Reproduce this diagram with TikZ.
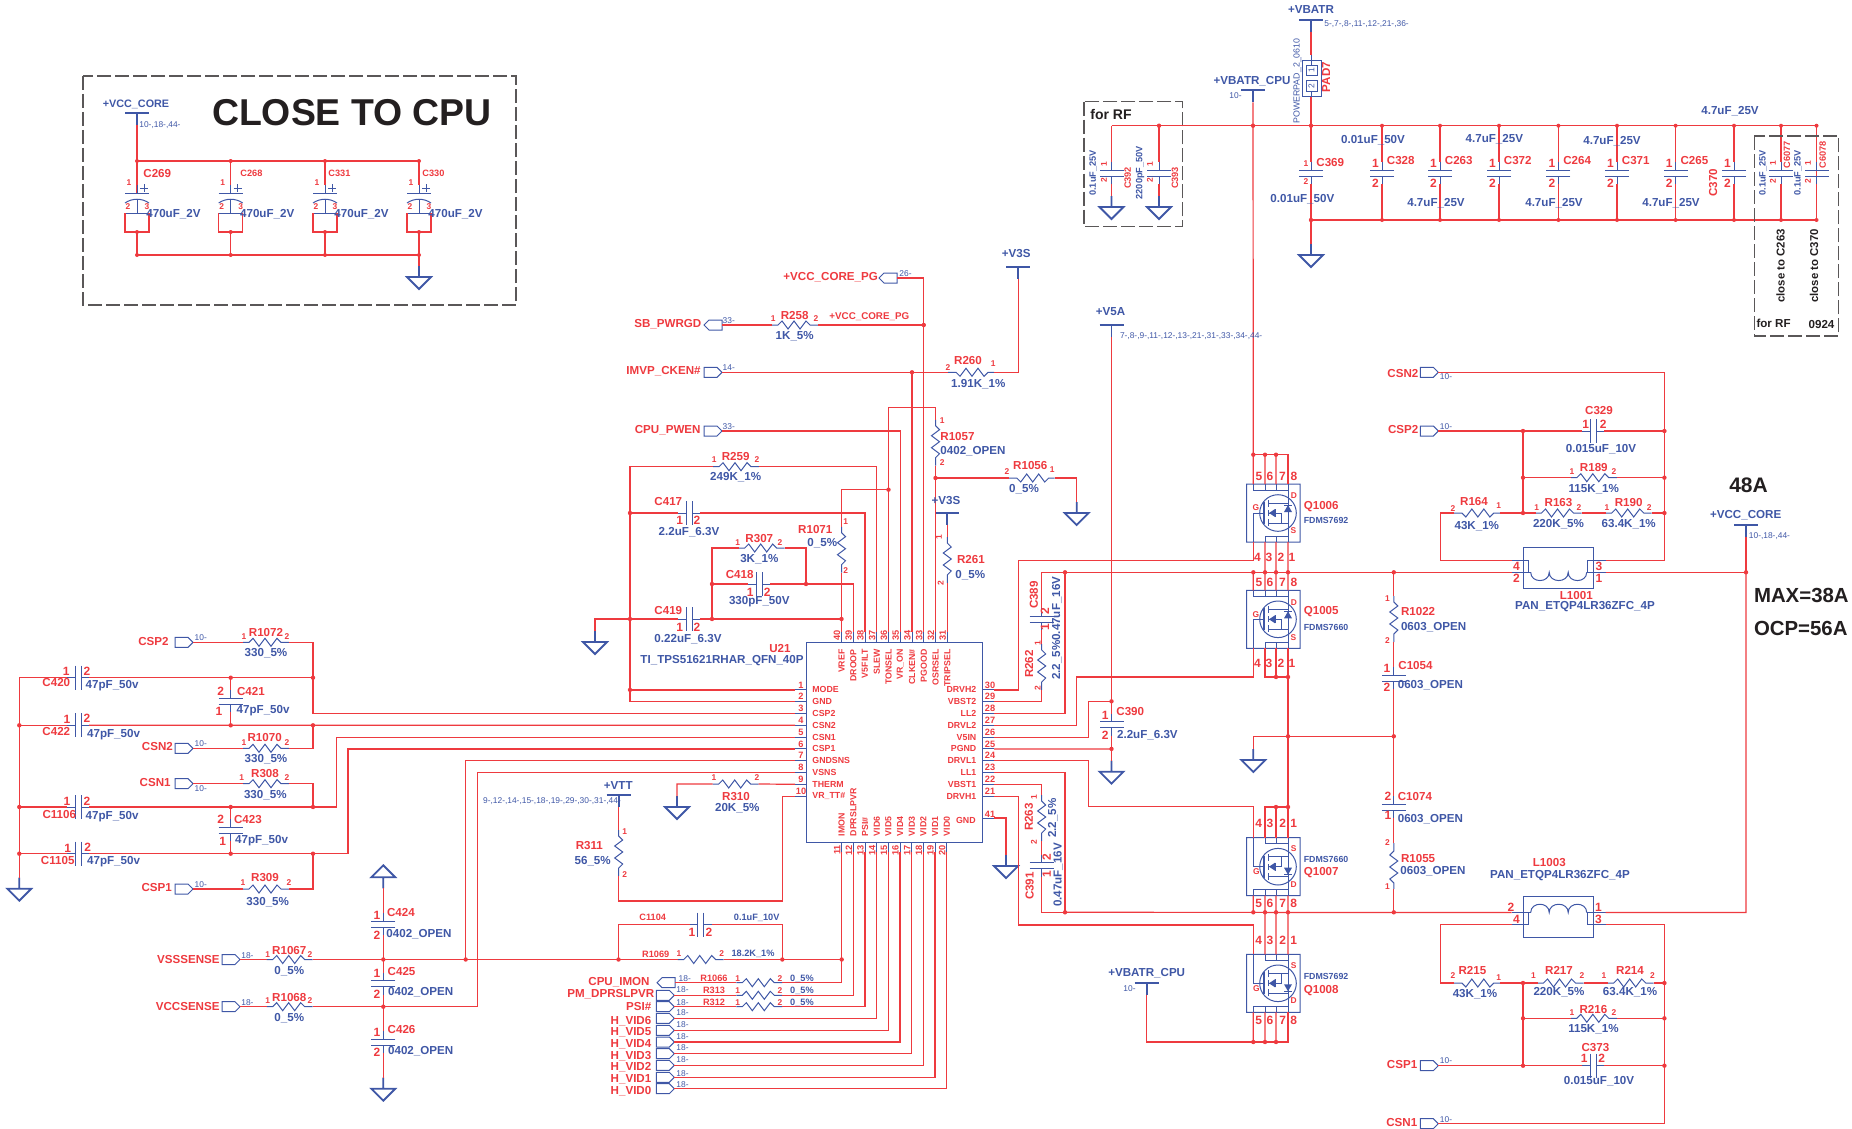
\documentclass[tikz,border=0pt]{standalone}
\usepackage{fontspec}
\setmainfont{Liberation Sans}
\definecolor{netred}{HTML}{EE3A3F}
\definecolor{partblue}{HTML}{3F57A6}
\definecolor{ink}{HTML}{231F20}
\tikzset{
  wire/.style={netred,line width=0.6pt},
  part/.style={partblue,line width=0.5pt},
  stem/.style={partblue,line width=0.9pt},
  frame/.style={ink!75,line width=0.6pt,dash pattern=on 7pt off 2pt},
  ref/.style={netred,inner sep=0,font=\fontsize{5.8}{6}\selectfont\bfseries},
  sref/.style={netred,inner sep=0,font=\fontsize{4.6}{5}\selectfont\bfseries},
  val/.style={partblue,inner sep=0,font=\fontsize{5.8}{6}\selectfont\bfseries},
  sval/.style={partblue,inner sep=0,font=\fontsize{4.6}{5}\selectfont\bfseries},
  pinb/.style={netred,inner sep=0,font=\fontsize{6}{6}\selectfont\bfseries},
  pins/.style={netred,inner sep=0,font=\fontsize{4.2}{5}\selectfont\bfseries},
  icn/.style={netred,inner sep=0,font=\fontsize{4.4}{5}\selectfont\bfseries},
  xref/.style={partblue,inner sep=0,font=\fontsize{4.2}{5}\selectfont},
  head/.style={ink,inner sep=0,font=\bfseries},
  al/.style={anchor=west},
  ar/.style={anchor=east},
  up/.style={rotate=90}
}
\newcount\txn
\newcommand{\tx}[3][]{\global\advance\txn by 1 \node[val,#1] (t\the\txn) at (#2) {#3};}
\newcommand{\res}[4]{\begin{scope}[shift={(#2,#3)},rotate=#4]
  \coordinate (#1-1) at (-23,0); \coordinate (#1-2) at (23,0);
  \draw[part] (-23,0)--(-17,0)--(-13,-4)--(-7,4)--(-1,-4)--(5,4)--(11,-4)--(15,0)--(23,0);
\end{scope}}
\newcommand{\cappart}[4]{\begin{scope}[shift={(#2,#3)},rotate=#4]
  \coordinate (#1-1) at (-11,0); \coordinate (#1-2) at (11,0);
  \draw[part] (-11,0)--(-3,0) (-3,-12)--(-3,12) (3,-12)--(3,12) (3,0)--(11,0);
\end{scope}}
\newcommand{\gnd}[4]{\begin{scope}[shift={(#2,#3)},rotate=#4]
  \coordinate (#1) at (0,-11);
  \draw[stem] (0,-11)--(0,0) (-12,0)--(12,0)--(0,12)--cycle;
\end{scope}}
\newcommand{\rail}[3]{\begin{scope}[shift={(#2,#3)}]
  \coordinate (#1) at (0,12);
  \draw[stem] (-12,0)--(12,0) (0,0)--(0,12);
\end{scope}}
\newcommand{\portout}[3]{\begin{scope}[shift={(#2,#3)}]
  \coordinate (#1) at (0,0);
  \draw[part] (0,0)--(-5,-5)--(-18,-5)--(-18,5)--(-5,5)--cycle;
\end{scope}}
\newcommand{\portin}[3]{\begin{scope}[shift={(#2,#3)}]
  \coordinate (#1) at (0,0);
  \draw[part] (-18,0)--(-13,-5)--(0,-5)--(0,5)--(-13,5)--cycle;
\end{scope}}
\newcommand{\fet}[4]{\begin{scope}[shift={(#2,#3)},yscale=#4]
  \foreach \n/\x in {5/-24.7,6/-13,7/-2,8/10} \coordinate (#1-\n) at (\x,-29);
  \foreach \n/\x in {4/-24.7,3/-13,2/-2,1/10} \coordinate (#1-\n) at (\x,29);
  \draw[part] (-31.3,-29) rectangle (22,29) (0,0) circle (18.3);
  \draw[part] (-24.7,-29)--(-24.7,-23)--(10,-23) (-13,-29)--(-13,-23) (-2,-29)--(-2,-23) (10,-29)--(10,29);
  \draw[part] (-13,29)--(-13,23)--(10,23) (-2,29)--(-2,23) (-24.7,29)--(-24.7,0)--(-14,0);
  \draw[stem] (-14,-11)--(-14,11);
  \draw[part] (-10,-13)--(-10,-6) (-10,-3)--(-10,3) (-10,6)--(-10,13);
  \draw[part] (-10,-10)--(10,-10) (-10,10)--(10,10) (-10,0)--(3,0)--(3,10);
  \fill[partblue] (-9,0)--(-3,-4)--(-3,4)--cycle (10,-8)--(6,-1)--(14,-1)--cycle;
  \draw[part] (-2.5,-4)--(-2.5,4) (6,-8)--(14,-8);
\end{scope}}
\newcommand{\ind}[4]{\begin{scope}[shift={(#2,#3)},yscale=#4]
  \coordinate (#1-4) at (-47,-6); \coordinate (#1-2) at (-47,6);
  \coordinate (#1-3) at (47,-6); \coordinate (#1-1) at (47,6);
  \draw[part] (-35.2,-19.3) rectangle (35.2,22);
  \draw[part] (-47,-6)--(-30,-6)--(-30,6) (-47,6)--(-28,6) (47,-6)--(29,-6)--(29,6) (47,6)--(28,6);
  \draw[part] (-28,6) .. controls (-28,17) and (-9.5,17) .. (-9.5,6) .. controls (-9.5,17) and (9.5,17) .. (9.5,6) .. controls (9.5,17) and (28,17) .. (28,6);
\end{scope}}
\begin{document}
\begin{tikzpicture}[x=0.5pt,y=-0.5pt]
\useasboundingbox (0,0) rectangle (1852,1129);
\foreach \n/\p in {ja/{630,689.9},jb/{630,513},jc/{630,619},jd/{712,619},je/{712,584},jf/{806,584},jg/{841.5,619},jh/{888.5,489.7},ji/{935.5,478},jj/{912,372.3},jk/{923.75,325},
  c1/{19.3,725.3},c2/{19.3,807},c3/{19.3,853.7},c4/{230.7,677.7},c5/{230.7,725.3},c6/{230.7,807},c7/{230.7,853.7},c8/{313,677.7},c9/{313,725.3},c10/{313,807},c11/{313,853.7},
  s1/{383.3,959.5},s2/{383.3,1006.7},s3/{465.7,959.5},s4/{618.5,959.5},s5/{782.3,959.5},s6/{841.7,959.5},
  d1/{1065,572.3},d2/{1065,912.3},d3/{1111.5,701.3},d4/{1111.5,748.9},
  qa5/{1253.3,454.7},qa6/{1265,454.7},qa7/{1276,454.7},
  qb5/{1253.3,572.3},qb6/{1265,572.3},qb7/{1276,572.3},qb8/{1288,572.3},
  qc7/{1276,677},qc8/{1288,677},qd/{1288,736.3},qe7/{1276,807},qe8/{1288,807},
  qf5/{1253.3,912.3},qf6/{1265,912.3},qf7/{1276,912.3},qf8/{1288,912.3},
  qg5/{1253.3,1042},qg6/{1265,1042},qg7/{1276,1042},
  m1/{1393.8,572.3},m2/{1393.8,736.3},m3/{1393.8,912.3},
  k1/{1523,431},k2/{1664.4,431},k3/{1523,477.7},k4/{1664.4,477.7},k5/{1523,513},k6/{1664.4,513},k7/{1746,572.3},
  n1/{1523,983},n2/{1664.4,983},n3/{1523,1018.3},n4/{1664.4,1018.3},n5/{1523,1065.7},n6/{1664.4,1065.7},
  b1/{1159,125.7},b2/{1253,125.7},b3/{1311,125.7},b4/{1311,220}}
  {\coordinate (\n) at (\p); \fill[netred] (\p) circle (2.2);}
% close to cpu
\draw[frame] (83,76) rectangle (516,305);
\tx[head,font=\fontsize{18.7}{20}\selectfont\bfseries]{352,113}{CLOSE TO CPU}
\rail{RCORE}{137}{113}
\tx[font=\fontsize{5.4}{6}\selectfont\bfseries]{136,104}{+VCC\_CORE}
\tx[xref,al]{139,125}{10-,18-,44-}
\draw[wire] (RCORE)--(137,193);
\draw[wire] (137,161)--(419,161);
\draw[wire] (137,255)--(419,255);
\foreach \x/\n/\t/\k in {137/C269/ref/143,230.7/C268/sref/240,325/C331/sref/328,419/C330/sref/422}{
  \draw[wire] (\x,161)--(\x,185);
  \draw[part] (\x,185)--(\x,193) (\x-12,193)--(\x+12,193) (\x,199.5)--(\x,213);
  \draw[part] (\x-12,203) .. controls (\x-5,198) and (\x+5,198) .. (\x+12,203);
  \draw[part] (\x+3,188)--(\x+11,188) (\x+7,184)--(\x+7,192);
  \draw[part] (\x-12,213)--(\x+12,213);
  \draw[wire] (\x-12,213)--(\x-12,232)--(\x+12,232)--(\x+12,213) (\x,232)--(\x,255);
  \fill[netred] (\x,161) circle (2) (\x,232) circle (2) (\x,255) circle (2);
  \tx[\t,al]{\k,173.5}{\n}
  \tx[pins]{\x-8,183}{1}
  \tx[pins]{\x-9,207}{2}
  \tx[pins]{\x+10,207}{3}
  \tx[al]{\x+9,214}{470uF\_2V}
}
\gnd{GCORE}{419}{277}{0}
\draw[wire] (419,255)--(GCORE);
% input caps
\draw[frame] (1084,101.7) rectangle (1182.7,226.7);
\tx[head,font=\fontsize{7}{8}\selectfont\bfseries]{1111,114.3}{for RF}
\coordinate (busL) at (1111.5,125.7);
\coordinate (busR) at (1816.5,125.7);
\coordinate (botR) at (1816.5,220);
\draw[wire] (busL)--(busR)--(botR)--(b4);
\foreach \n/\x in {C392/1111.5,C393/1159}{
  \cappart{\n}{\x}{173}{-90}
  \gnd{G\n}{\x}{207}{0}
  \draw[wire] (\x,125.7)--(\n-1) (\n-2)--(G\n);
}
\tx[sval,up]{1093.3,173}{0.1uF\_25V}
\tx[pins,up]{1104,164}{1}
\tx[pins,up]{1104,180}{2}
\tx[sref,up]{1127.7,178}{C392}
\tx[sval,up]{1140,172.7}{2200pF\_50V}
\tx[pins,up]{1150,164}{1}
\tx[pins,up]{1150,180}{2}
\tx[sref,up]{1175,178}{C393}
\rail{RVBAT}{1311}{20}
\tx{1311,10}{+VBATR}
\tx[xref,al]{1324,24}{5-,7-,8-,11-,12-,21-,36-}
\draw[part] (1302.4,61) rectangle (1321,96.7) (1306,65.7) rectangle (1317.5,76) (1306,81) rectangle (1317.5,91.3);
\draw[part] (1311,55)--(1311,65.7) (1311,91.3)--(1311,97);
\draw[wire] (RVBAT)--(1311,55) (1311,97)--(b3);
\tx[xref,up,font=\fontsize{4.4}{5}\selectfont]{1297.4,81}{POWERPAD\_2\_0610}
\tx[ref,up]{1326,77}{PAD7}
\tx[xref,up]{1311.5,70.5}{1}
\tx[xref,up]{1311.5,86}{2}
\rail{RCPU}{1253}{90.3}
\tx{1252,81}{+VBATR\_CPU}
\tx[xref,ar]{1242,96}{10-}
\draw[wire] (RCPU)--(qa5);
\cappart{C369}{1311}{173}{-90}
\gnd{GBAT}{1311}{255}{0}
\draw[wire] (b3)--(C369-1) (C369-2)--(GBAT);
\foreach \n/\x in {C328/1382,C263/1440,C372/1499,C264/1558.4,C371/1617,C265/1675.6,C370/1734,C6077/1781,C6078/1816.5}{
  \cappart{\n}{\x}{173}{-90}
  \draw[wire] (\x,125.7)--(\n-1) (\n-2)--(\x,220);
  \fill[netred] (\x,125.7) circle (2) (\x,220) circle (2);
}
\tx[ref,al]{1316,162.7}{C369}
\tx[pins]{1306,163.7}{1}
\tx[pins]{1306,182}{2}
\foreach \n/\x in {C328/1382,C263/1440,C372/1499,C264/1558.4,C371/1617,C265/1675.6}{
  \tx[ref,al]{\x+4.5,160.5}{\n}
}
\foreach \x in {1382,1440,1499,1558.4,1617,1675.6,1734}{
  \tx[pinb]{\x-6.5,163}{1}
  \tx[pinb]{\x-6.5,183}{2}
}
\tx[ref,up]{1713,182.7}{C370}
\tx{1373,140}{0.01uF\_50V}
\tx{1494.3,139}{4.7uF\_25V}
\tx{1612,140.7}{4.7uF\_25V}
\tx{1730,111}{4.7uF\_25V}
\tx{1302.4,199}{0.01uF\_50V}
\tx{1436,203}{4.7uF\_25V}
\tx{1554,203}{4.7uF\_25V}
\tx{1671,203}{4.7uF\_25V}
\tx[sval,up]{1763,172.7}{0.1uF\_25V}
\tx[pins,up]{1773,163}{1}
\tx[pins,up]{1773,181}{2}
\tx[sref,up]{1787,155}{C6077}
\tx[sval,up]{1798,172.7}{0.1uF\_25V}
\tx[pins,up]{1808,163}{1}
\tx[pins,up]{1808,181}{2}
\tx[sref,up]{1822.6,155}{C6078}
\draw[frame] (1754.4,136) rectangle (1838.7,336);
\tx[head,up,font=\fontsize{5.7}{6}\selectfont\bfseries]{1780.6,266}{close to C263}
\tx[head,up,font=\fontsize{5.7}{6}\selectfont\bfseries]{1814,266}{close to C370}
\tx[head,font=\fontsize{5.8}{6}\selectfont\bfseries]{1773.6,323.7}{for RF}
\tx[head,font=\fontsize{5.8}{6}\selectfont\bfseries]{1821.5,325}{0924}
% u21
\draw[part] (806.7,642) rectangle (982,842);
\tx[ref]{780,648}{U21}
\tx[ar]{804,661}{TI\_TPS51621RHAR\_QFN\_40P}
\foreach \n/\t in {1/MODE,2/GND,3/CSP2,4/CSN2,5/CSN1,6/CSP1,7/GNDSNS,8/VSNS,9/THERM,10/VR\_TT\#}{
  \pgfmathsetmacro\py{678.1+11.8*\n}
  \coordinate (p\n) at (795,\py);
  \draw[part] (795,\py)--(806.7,\py);
  \tx[pins,font=\fontsize{4.6}{5}\selectfont\bfseries]{801,\py-5}{\n}
  \tx[icn,al]{812,\py}{\t}
}
\foreach \n/\t in {21/DRVH1,22/VBST1,23/LL1,24/DRVL1,25/PGND,26/V5IN,27/DRVL2,28/LL2,29/VBST2,30/DRVH2}{
  \pgfmathsetmacro\py{678.1+11.8*(31-\n)}
  \coordinate (p\n) at (994,\py);
  \draw[part] (982,\py)--(994,\py);
  \tx[pins,font=\fontsize{4.6}{5}\selectfont\bfseries]{990,\py-5}{\n}
  \tx[icn,ar]{976.7,\py}{\t}
}
\coordinate (p41) at (994,818);
\draw[part] (982,818)--(994,818);
\tx[pins,font=\fontsize{4.6}{5}\selectfont\bfseries]{990,814}{41}
\tx[icn,ar]{976,820}{GND}
\foreach \n/\t in {31/TRIPSEL,32/OSRSEL,33/PGOOD,34/CLKEN\#,35/VR\_ON,36/TONSEL,37/SLEW,38/V5FILT,39/DROOP,40/VREF}{
  \pgfmathsetmacro\px{841.5+11.75*(40-\n)}
  \coordinate (p\n) at (\px,632);
  \draw[part] (\px,632)--(\px,642);
  \tx[pins,up,font=\fontsize{4.6}{5}\selectfont\bfseries]{\px-4.5,635}{\n}
  \tx[icn,up,anchor=east]{\px,649}{\t}
}
\foreach \n/\t in {11/IMON,12/DPRSLPVR,13/PSI\#,14/VID6,15/VID5,16/VID4,17/VID3,18/VID2,19/VID1,20/VID0}{
  \pgfmathsetmacro\px{841.7+11.67*(\n-11)}
  \coordinate (p\n) at (\px,852);
  \draw[part] (\px,842)--(\px,852);
  \tx[pins,up,font=\fontsize{4.6}{5}\selectfont\bfseries]{\px-4.5,850}{\n}
  \tx[icn,up,anchor=west]{\px,836.7}{\t}
}
% top of u21
\portin{PPG}{897}{278}
\portin{PSB}{722}{325}
\portout{PCKEN}{722}{372.3}
\portout{PPWEN}{722}{431}
\res{R258}{795}{325}{0}
\res{R260}{971}{372.3}{180}
\res{R259}{736}{466.7}{0}
\res{R307}{761.7}{548}{0}
\res{R1071}{841.5}{549.7}{-90}
\res{R1057}{935.5}{442.7}{-90}
\res{R1056}{1031.7}{478}{180}
\res{R261}{947.25}{560}{-90}
\cappart{C417}{689}{513}{0}
\cappart{C418}{759}{584}{0}
\cappart{C419}{689}{619}{0}
\rail{RV3SA}{1018.3}{266.7}
\rail{RV3SB}{947.25}{513}
\gnd{G1056}{1076.7}{513}{0}
\gnd{G419}{595}{642}{0}
\draw[wire] (PPG) -| (p33);
\draw[wire] (PSB)--(R258-1) (R258-2)--(jk);
\draw[wire] (PCKEN)--(R260-2) (R260-1) -| (RV3SA);
\draw[wire] (jj)--(p34);
\draw[wire] (PPWEN) -| (p35);
\draw[wire] (p37) |- (R259-2);
\draw[wire] (R259-1) -| (ja);
\draw[wire] (ja)--(p1);
\draw[wire] (ja) |- (p2);
\draw[wire] (jb)--(C417-1);
\draw[wire] (C417-2) -| (p38);
\draw[wire] (G419) |- (C419-1);
\draw[wire] (C419-2)--(jg);
\draw[wire] (jd) |- (R307-1);
\draw[wire] (R307-2) -| (jf);
\draw[wire] (je)--(C418-1);
\draw[wire] (C418-2)--(jf) -| (p39);
\draw[wire] (p40)--(R1071-2);
\draw[wire] (R1071-1) |- (jh);
\draw[wire] (p36) |- (935.5,407.7)--(R1057-1);
\draw[wire] (R1057-2)--(p32);
\draw[wire] (ji)--(R1056-2);
\draw[wire] (R1056-1) -| (G1056);
\draw[wire] (RV3SB)--(R261-1) (R261-2)--(p31);
\tx[ref,ar]{878.3,276.7}{+VCC\_CORE\_PG}
\tx[xref,al]{899,274}{26-}
\tx[ref,ar]{701.7,324}{SB\_PWRGD}
\tx[xref,al]{722.3,321}{33-}
\tx[ref]{794.7,316}{R258}
\tx[pins]{773.3,319}{1}
\tx[pins]{816,319}{2}
\tx{794.7,336}{1K\_5\%}
\tx[sref,font=\fontsize{4.9}{5}\selectfont\bfseries]{869.3,316.7}{+VCC\_CORE\_PG}
\tx[ref,ar]{701,370.7}{IMVP\_CKEN\#}
\tx[xref,al]{722.3,368}{14-}
\tx[ref]{968,360.7}{R260}
\tx[pins]{948,367.3}{2}
\tx[pins]{993.3,364}{1}
\tx{978.3,384}{1.91K\_1\%}
\tx{1016.3,254}{+V3S}
\tx[ref,ar]{701,429.7}{CPU\_PWEN}
\tx[xref,al]{722.3,427}{33-}
\tx[ref]{735.7,457}{R259}
\tx[pins]{714.3,460}{1}
\tx[pins]{757,460}{2}
\tx{735.7,477}{249K\_1\%}
\tx[ref]{668.3,502}{C417}
\tx[pinb]{679.7,520.7}{1}
\tx[pinb]{697,520.7}{2}
\tx{689,532}{2.2uF\_6.3V}
\tx[ref]{759.3,539}{R307}
\tx[pins]{737.7,542.7}{1}
\tx[pins]{780,542.7}{2}
\tx{759.3,559}{3K\_1\%}
\tx[ref]{739.7,575}{C418}
\tx[pinb]{750.3,592}{1}
\tx[pinb]{767.3,592}{2}
\tx{759.3,602}{330pF\_50V}
\tx[ref]{668.3,611}{C419}
\tx[pinb]{679.7,627}{1}
\tx[pinb]{697,627}{2}
\tx{688,639}{0.22uF\_6.3V}
\tx[ref]{815.3,530}{R1071}
\tx{822.3,543}{0\_5\%}
\tx[pins]{845.7,522}{1}
\tx[pins]{845.7,571}{2}
\tx[pins]{942.3,421}{1}
\tx[pins]{942.3,463}{2}
\tx[ref,al]{940,437}{R1057}
\tx[al]{940,451}{0402\_OPEN}
\tx[ref]{1030.3,466}{R1056}
\tx[pins]{1007,472}{2}
\tx[pins]{1052.3,470}{1}
\tx{1024,489}{0\_5\%}
\tx{946,501}{+V3S}
\tx[pins,up]{939,537}{1}
\tx[pins,up]{940.7,583}{2}
\tx[ref,al]{956.7,560}{R261}
\tx[al]{955,575}{0\_5\%}
% left of u21
\portout{PCSP2}{193}{642.3}
\portout{PCSN2}{193}{748.3}
\portout{PCSN1}{193}{783.7}
\portout{PCSP1}{193}{889}
\res{R1072}{266}{642.3}{0}
\res{R1070}{266}{748.3}{0}
\res{R308}{266}{783.7}{0}
\res{R309}{266}{889}{0}
\cappart{C420}{78}{677.7}{0}
\cappart{C422}{78}{725.3}{0}
\cappart{C1106}{78}{807}{0}
\cappart{C1105}{78}{853.7}{0}
\cappart{C421}{230.7}{701}{90}
\cappart{C423}{230.7}{830}{90}
\gnd{GLEFT}{19.3}{888.7}{0}
\draw[wire] (C420-1)--(19.3,677.7)--(GLEFT);
\draw[wire] (c1)--(C422-1) (c2)--(C1106-1) (c3)--(C1105-1);
\draw[wire] (C420-2)--(c8) |- (p3);
\draw[wire] (C422-2)--(p4);
\draw[wire] (C1106-2)--(336.3,807) |- (p5);
\draw[wire] (C1105-2)--(348,853.7) |- (p6);
\draw[wire] (c4)--(C421-2) (C421-1)--(c5) (c6)--(C423-2) (C423-1)--(c7);
\draw[wire] (PCSP2)--(R1072-1) (R1072-2) -| (c8);
\draw[wire] (PCSN2)--(R1070-1) (R1070-2) -| (c9);
\draw[wire] (PCSN1)--(R308-1) (R308-2) -| (c10);
\draw[wire] (PCSP1)--(R309-1) (R309-2) -| (c11);
\tx[ref,ar]{169,641.7}{CSP2}
\tx[xref,al]{194.3,638}{10-}
\tx[ref]{266,632.7}{R1072}
\tx[pins]{244,636.7}{1}
\tx[pins]{287,636.7}{2}
\tx{266,652.7}{330\_5\%}
\tx[pinb]{66.3,671}{1}
\tx[pinb]{87,671}{2}
\tx[ref]{56.3,682.7}{C420}
\tx[al]{85.3,685.7}{47pF\_50v}
\tx[pinb]{220.7,691}{2}
\tx[ref,al]{236.7,691.7}{C421}
\tx[pinb]{219,711.7}{1}
\tx[al]{236.3,710.7}{47pF\_50v}
\tx[pinb]{67,719}{1}
\tx[pinb]{87,718}{2}
\tx[ref]{56.3,731.7}{C422}
\tx[al]{86.7,735}{47pF\_50v}
\tx[ref,ar]{173.3,746.7}{CSN2}
\tx[xref,al]{194.3,744}{10-}
\tx[ref]{264.7,737.7}{R1070}
\tx[pins]{244,742.7}{1}
\tx[pins]{287,742.7}{2}
\tx{266,759}{330\_5\%}
\tx[ref,ar]{171,782.7}{CSN1}
\tx[xref,al]{194.3,789}{10-}
\tx[ref]{265,773.7}{R308}
\tx[pins]{241.7,778}{1}
\tx[pins]{287,778}{2}
\tx{265.3,795}{330\_5\%}
\tx[pinb]{67,801}{1}
\tx[pinb]{87,801}{2}
\tx[ref]{59.3,814.7}{C1106}
\tx[al]{85.3,817}{47pF\_50v}
\tx[pinb]{220.7,819}{2}
\tx[ref,al]{233.7,820}{C423}
\tx[pinb]{222.7,841}{1}
\tx[al]{234.7,841}{47pF\_50v}
\tx[pinb]{67.7,848}{1}
\tx[pinb]{87.7,847}{2}
\tx[ref]{57.7,860}{C1105}
\tx[al]{86.7,861.7}{47pF\_50v}
\tx[ref,ar]{172.3,887.7}{CSP1}
\tx[xref,al]{194.3,885}{10-}
\tx[ref]{265,877.7}{R309}
\tx[pins]{243,883}{1}
\tx[pins]{289,883}{2}
\tx{267.7,902}{330\_5\%}
% sense lines
\portout{PVSS}{240}{959.5}
\portout{PVCC}{240}{1006.7}
\res{R1067}{289.7}{959.5}{0}
\res{R1068}{289.7}{1006.7}{0}
\res{R1069}{700.7}{959.5}{0}
\cappart{C424}{383.3}{924}{-90}
\cappart{C425}{383.3}{983.5}{-90}
\cappart{C426}{383.3}{1042}{-90}
\gnd{G424}{383.3}{877.3}{180}
\gnd{G426}{383.3}{1088.7}{0}
\draw[wire] (PVSS)--(R1067-1) (R1067-2)--(R1069-1);
\draw[wire] (R1069-2)--(s6);
\draw[wire] (PVCC)--(R1068-1) (R1068-2)--(477.7,1006.7) |- (p8);
\draw[wire] (G424)--(C424-1) (C424-2)--(C425-1) (C425-2)--(C426-1) (C426-2)--(G426);
\draw[wire] (p7) -| (s3);
\tx[ref,ar]{220,959}{VSSSENSE}
\tx[xref,al]{241,955.3}{18-}
\tx[ref]{289.3,950}{R1067}
\tx[pins]{267.7,954.7}{1}
\tx[pins]{310,954.7}{2}
\tx{289.3,971}{0\_5\%}
\tx[ref,ar]{220,1006}{VCCSENSE}
\tx[xref,al]{241,1002.7}{18-}
\tx[ref]{289.3,997}{R1068}
\tx[pins]{267.7,1001}{1}
\tx[pins]{310,1001}{2}
\tx{289.3,1018}{0\_5\%}
\tx[pinb]{377,915}{1}
\tx[ref,al]{386.7,912}{C424}
\tx[pinb]{377,935.3}{2}
\tx[al]{386,934}{0402\_OPEN}
\tx[pinb]{377,973.3}{1}
\tx[ref,al]{387.3,971.7}{C425}
\tx[pinb]{377,994}{2}
\tx[al]{387.7,992}{0402\_OPEN}
\tx[pinb]{377,1032.3}{1}
\tx[ref,al]{387.3,1029}{C426}
\tx[pinb]{377,1052}{2}
\tx[al]{387.7,1051}{0402\_OPEN}
% vr_tt and therm
\res{R310}{735.7}{784}{0}
\res{R311}{618.7}{853}{-90}
\gnd{G310}{677}{807}{0}
\rail{RVTT}{618.7}{795}
\draw[wire] (p9)--(R310-2) (R310-1) -| (G310);
\draw[wire] (p10) -| (782.7,901) -| (R311-2);
\draw[wire] (RVTT)--(R311-1);
\tx{618.3,786}{+VTT}
\tx[xref,al]{482.7,801}{9-,12-,14-,15-,18-,19-,29-,30-,31-,44-}
\tx[ref]{589.3,846}{R311}
\tx{592.7,860.7}{56\_5\%}
\tx[pins]{624.7,831.7}{1}
\tx[pins]{624.7,875}{2}
\tx[pins]{714,778}{1}
\tx[pins]{757,778}{2}
\tx[ref]{736,796.7}{R310}
\tx{737.3,808}{20K\_5\%}
\cappart{C1104}{700.7}{924.5}{0}
\draw[wire] (s4) |- (C1104-1);
\draw[wire] (s5) |- (C1104-2);
\tx[sref]{652.7,917.7}{C1104}
\tx[pinb]{692,932.3}{1}
\tx[pinb]{709,932.3}{2}
\tx[sval]{756.7,917.7}{0.1uF\_10V}
\tx[sref]{655.7,954.3}{R1069}
\tx[pins]{679,953.7}{1}
\tx[pins]{721.7,953.7}{2}
\tx[sval]{753,953.7}{18.2K\_1\%}
% vid ports
\portin{PIMON}{675}{982.7}
\portout{P12}{674.3}{995.3}
\portout{P13}{674.3}{1006.7}
\res{R1066}{759.3}{982.7}{0}
\res{R313}{759.3}{995.3}{0}
\res{R312}{759.3}{1006.7}{0}
\draw[wire] (PIMON)--(R1066-1);
\draw[wire] (P12)--(R313-1);
\draw[wire] (P13)--(R312-1);
\draw[wire] (p11) |- (R1066-2);
\draw[wire] (p12) |- (R313-2);
\draw[wire] (p13) |- (R312-2);
\tx[ref,ar]{650,981.7}{CPU\_IMON}
\tx[xref,al]{678.3,978.3}{18-}
\tx[ref,ar]{654.7,994}{PM\_DPRSLPVR}
\tx[xref,al]{676,990}{18-}
\tx[ref,ar]{651.7,1006}{PSI\#}
\tx[xref,al]{676,1002.7}{18-}
\foreach \n/\y in {R1066/978.5,R313/990.5,R312/1002.5}{
  \tx[sref]{714,\y}{\n}
  \tx[pins]{737.7,\y}{1}
  \tx[pins]{780,\y}{2}
  \tx[sval]{802,\y}{0\_5\%}
}
\foreach \n/\y/\p/\ly/\oy in {6/1018.3/14/1021/1013,5/1030.3/15/1032/1025,4/1042/16/1044/1036.7,3/1053.7/17/1055.7/1048,2/1065.3/18/1066.7/1060,1/1077.3/19/1079/1074,0/1088.7/20/1090.7/1085}{
  \portout{PV\n}{674.3}{\y}
  \draw[wire] (PV\n) -| (p\p);
  \tx[ref,ar]{651.7,\ly}{H\_VID\n}
  \tx[xref,al]{676,\oy}{18-}
}
% mosfets
\fet{Q1006}{1278}{513}{1}
\fet{Q1005}{1278}{619.3}{1}
\fet{Q1007}{1278}{866.7}{-1}
\fet{Q1008}{1278}{983.3}{-1}
\ind{L1001}{1558.7}{566.3}{1}
\ind{L1003}{1558.7}{918.5}{-1}
% right of u21
\res{R262}{1041.7}{667}{-90}
\res{R263}{1041.7}{818}{-90}
\cappart{C389}{1041.7}{619}{90}
\cappart{C391}{1041.7}{865.5}{90}
\cappart{C390}{1111.5}{724.5}{-90}
\rail{RV5A}{1111.5}{325}
\gnd{G390}{1111.5}{771.7}{0}
\gnd{G41}{1006}{866}{0}
\draw[wire] (p41) -| (G41);
\draw[wire] (p30) -| (1018.3,560.3) -| (Q1006-4);
\draw[wire] (p29) -| (R262-2);
\draw[wire] (R262-1)--(C389-1);
\draw[wire] (C389-2) |- (d1);
\draw[wire] (p28) -| (d1);
\draw[wire] (p27) -| (1076.7,677) -| (Q1005-4);
\draw[wire] (p26) -| (1088.7,701.3)--(d3);
\draw[wire] (RV5A)--(C390-1) (C390-2)--(G390);
\draw[wire] (p25)--(d4);
\draw[wire] (p24) -| (1088.7,806.7) -| (Q1007-4);
\draw[wire] (p23) -| (d2);
\draw[wire] (p22) -| (R263-1);
\draw[wire] (R263-2)--(C391-2);
\draw[wire] (C391-1) |- (d2);
\draw[wire] (p21) -| (1018.3,925) -| (Q1008-4);
\tx[ref,up]{1034,595}{C389}
\tx[pinb,up]{1045,611}{2}
\tx[pinb,up]{1045,627.3}{1}
\tx[up]{1056.7,608.7}{0.47uF\_16V}
\tx[up]{1056.7,660}{2.2\_5\%}
\tx[ref,up]{1029,664}{R262}
\tx[pins,up]{1037.7,643}{1}
\tx[pins,up]{1037.7,688}{2}
\tx[ref,al]{1116,711.7}{C390}
\tx[pinb]{1105.3,715}{1}
\tx[pinb]{1105.3,735}{2}
\tx[al]{1116.7,735}{2.2uF\_6.3V}
\tx{1110.5,312}{+V5A}
\tx[xref,al]{1119.6,336}{7-,8-,9-,11-,12-,13-,21-,31-,33-,34-,44-}
\tx[ref,up]{1029,817}{R263}
\tx[pins,up]{1034,796.7}{1}
\tx[pins,up]{1034,842.3}{2}
\tx[up]{1052.7,818}{2.2\_5\%}
\tx[up]{1058.3,875}{0.47uF\_16V}
\tx[ref,up]{1029.7,886}{C391}
\tx[pinb,up]{1046.7,857}{2}
\tx[pinb,up]{1046.7,874}{1}
\draw[wire] (qa5)--(1288,454.7)--(Q1006-8);
\draw[wire] (qa5)--(Q1006-5) (qa6)--(Q1006-6) (qa7)--(Q1006-7);
\draw[wire] (Q1006-3)--(Q1005-6) (Q1006-2)--(Q1005-7) (Q1006-1)--(Q1005-8) (qb5)--(Q1005-5);
\draw[wire] (d1)--(L1001-2) (L1001-1)--(k7);
\draw[wire] (Q1005-3)--(1265,677)--(qc8) (Q1005-2)--(qc7) (Q1005-1)--(qc8)--(Q1007-1);
\draw[wire] (Q1007-3)--(1265,807)--(qe8) (Q1007-2)--(qe7);
\draw[wire] (Q1007-6)--(Q1008-3) (Q1007-7)--(Q1008-2) (Q1007-8)--(Q1008-1) (Q1007-5)--(qf5);
\draw[wire] (d2)--(L1003-2) (L1003-1) -| (k7);
\rail{RCPUB}{1146.7}{982.7}
\draw[wire] (RCPUB) |- (1288,1042)--(Q1008-8);
\draw[wire] (qg5)--(Q1008-5) (qg6)--(Q1008-6) (qg7)--(Q1008-7);
\tx{1146.7,973}{+VBATR\_CPU}
\tx[xref,ar]{1136,989}{10-}
\gnd{GMID}{1253.3}{760}{0}
\draw[wire] (GMID) |- (m2);
\foreach \n/\y/\a/\b in {Q1006/513/5/4,Q1005/619.3/5/4}{
  \tx[pinb]{1259,\y-37}{5}
  \tx[pinb]{1270,\y-37}{6}
  \tx[pinb]{1282.4,\y-37}{7}
  \tx[pinb]{1294,\y-37}{8}
  \tx[pinb]{1257.4,\y+44}{4}
  \tx[pinb]{1269,\y+44}{3}
  \tx[pinb]{1281,\y+44}{2}
  \tx[pinb]{1292,\y+44}{1}
  \tx[pins]{1294,\y-17}{D}
  \tx[pins]{1256,\y-5}{G}
  \tx[pins]{1293.5,\y+18}{S}
}
\foreach \n/\y in {Q1007/866.7,Q1008/983.3}{
  \tx[pinb]{1258.7,\y-43}{4}
  \tx[pinb]{1270,\y-43}{3}
  \tx[pinb]{1282.7,\y-43}{2}
  \tx[pinb]{1293.7,\y-43}{1}
  \tx[pinb]{1258.7,\y+37}{5}
  \tx[pinb]{1270,\y+37}{6}
  \tx[pinb]{1282.7,\y+37}{7}
  \tx[pinb]{1293.7,\y+37}{8}
  \tx[pins]{1293.7,\y-18}{S}
  \tx[pins]{1256.3,\y+5}{G}
  \tx[pins]{1293.7,\y+17.5}{D}
}
\tx[ref,al]{1303.4,507}{Q1006}
\tx[sval,al,font=\fontsize{4.4}{5}\selectfont\bfseries]{1303.4,520}{FDMS7692}
\tx[ref,al]{1303.4,611.7}{Q1005}
\tx[sval,al,font=\fontsize{4.4}{5}\selectfont\bfseries]{1303.4,627}{FDMS7660}
\tx[sval,al,font=\fontsize{4.4}{5}\selectfont\bfseries]{1303.4,859}{FDMS7660}
\tx[ref,al]{1303.4,873}{Q1007}
\tx[sval,al,font=\fontsize{4.4}{5}\selectfont\bfseries]{1303.4,976}{FDMS7692}
\tx[ref,al]{1303.4,991}{Q1008}
% snubber column
\res{R1022}{1393.8}{619}{-90}
\res{R1055}{1393.8}{866}{90}
\cappart{C1054}{1393.8}{678}{-90}
\cappart{C1074}{1393.8}{807}{90}
\draw[wire] (m1)--(R1022-1) (R1022-2)--(C1054-1) (C1054-2)--(C1074-2) (C1074-1)--(R1055-2) (R1055-1)--(m3);
\draw[wire] (qd)--(m2);
\tx[pins]{1387.5,599}{1}
\tx[pins]{1387.5,640.7}{2}
\tx[ref,al]{1400.6,611.7}{R1022}
\tx[al]{1400.6,627}{0603\_OPEN}
\tx[pinb]{1387,668.3}{1}
\tx[pinb]{1387,687.7}{2}
\tx[ref,al]{1398,666}{C1054}
\tx[al]{1397.4,685}{0603\_OPEN}
\tx[pinb]{1388,796}{2}
\tx[pinb]{1388,815.7}{1}
\tx[ref,al]{1397.4,796.7}{C1074}
\tx[al]{1397.4,819}{0603\_OPEN}
\tx[pins]{1387.5,843}{2}
\tx[pins]{1387.5,886.7}{1}
\tx[ref,al]{1400.6,858}{R1055}
\tx[al]{1400,871}{0603\_OPEN}
% phase 2 output
\portout{PCSN2B}{1438.3}{372.3}
\portout{PCSP2B}{1438.3}{431}
\cappart{C329}{1593}{431}{0}
\res{R189}{1593.8}{477.7}{0}
\res{R164}{1476.8}{513}{180}
\res{R163}{1558.5}{513}{0}
\res{R190}{1628.7}{513}{0}
\rail{RVCC}{1746}{525}
\draw[wire] (RVCC)--(k7);
\draw[wire] (PCSN2B)--(1664.4,372.3)--(1664.4,560.3)--(L1001-3);
\draw[wire] (PCSP2B)--(C329-1) (C329-2)--(k2);
\draw[wire] (k1)--(k5);
\draw[wire] (k3)--(R189-1) (R189-2)--(k4);
\draw[wire] (R164-1)--(k5)--(R163-1) (R163-2)--(R190-1) (R190-2)--(k6);
\draw[wire] (L1001-4)--(1440.6,560.3) |- (R164-2);
\tx[ref,ar]{1418.8,373.7}{CSN2}
\tx[xref,al]{1439.5,377}{10-}
\tx[ref,ar]{1418.8,430}{CSP2}
\tx[xref,al]{1439.5,427}{10-}
\tx[ref]{1599,410.7}{C329}
\tx[pinb]{1585.8,424}{1}
\tx[pinb]{1603.3,424}{2}
\tx{1601,449}{0.015uF\_10V}
\tx[ref]{1593.8,468}{R189}
\tx[pins]{1572,472}{1}
\tx[pins]{1614,472}{2}
\tx{1593.8,489}{115K\_1\%}
\tx[ref]{1474,502}{R164}
\tx[pins]{1453,509}{2}
\tx[pins]{1498.6,505.7}{1}
\tx{1476.8,526}{43K\_1\%}
\tx[ref]{1558.5,503}{R163}
\tx[pins]{1536.7,508}{1}
\tx[pins]{1579,508}{2}
\tx{1558.5,524}{220K\_5\%}
\tx[ref]{1628.7,503}{R190}
\tx[pins]{1606.9,508}{1}
\tx[pins]{1649.3,508}{2}
\tx{1628.7,524}{63.4K\_1\%}
\tx[pinb]{1516.4,566}{4}
\tx[pinb]{1516.4,578}{2}
\tx[pinb]{1599,566}{3}
\tx[pinb]{1599,578}{1}
\tx[ref]{1576.3,595}{L1001}
\tx{1585,606.7}{PAN\_ETQP4LR36ZFC\_4P}
\tx[head,font=\fontsize{10.5}{11}\selectfont\bfseries]{1748.5,485.7}{48A}
\tx{1745.7,515}{+VCC\_CORE}
\tx[xref,al]{1748.5,536}{10-,18-,44-}
\tx[head,al,font=\fontsize{10.2}{11}\selectfont\bfseries]{1753.6,595}{MAX=38A}
\tx[head,al,font=\fontsize{10.2}{11}\selectfont\bfseries]{1753.6,628.3}{OCP=56A}
% phase 1 output
\portout{PCSP1B}{1438.3}{1065.7}
\portout{PCSN1B}{1438.3}{1123.7}
\res{R215}{1476.8}{983}{180}
\res{R217}{1560.5}{983}{0}
\res{R214}{1630.7}{983}{0}
\res{R216}{1593.8}{1018.3}{0}
\cappart{C373}{1593.4}{1065.7}{0}
\draw[wire] (L1003-4)--(1440.6,924.5) |- (R215-2);
\draw[wire] (R215-1)--(n1)--(R217-1) (R217-2)--(R214-1) (R214-2)--(n2);
\draw[wire] (L1003-3)--(1664.4,924.5)--(1664.4,1123.7)--(PCSN1B);
\draw[wire] (n1)--(n5);
\draw[wire] (n3)--(R216-1) (R216-2)--(n4);
\draw[wire] (PCSP1B)--(C373-1) (C373-2)--(n6);
\tx[pinb]{1510.9,907}{2}
\tx[pinb]{1516.4,919}{4}
\tx[pinb]{1598.5,907}{1}
\tx[pinb]{1598.5,919}{3}
\tx[ref]{1549.3,863}{L1003}
\tx{1560,876}{PAN\_ETQP4LR36ZFC\_4P}
\tx[ref]{1472.4,970}{R215}
\tx[pins]{1453,976}{2}
\tx[pins]{1498.6,978}{1}
\tx{1475,994}{43K\_1\%}
\tx[ref]{1559,970}{R217}
\tx[pins]{1533.5,976}{1}
\tx[pins]{1582,976}{2}
\tx{1559,991.7}{220K\_5\%}
\tx[ref]{1630,970}{R214}
\tx[pins]{1604,976}{1}
\tx[pins]{1652.5,976}{2}
\tx{1630,991.7}{63.4K\_1\%}
\tx[ref]{1593.4,1009}{R216}
\tx[pins]{1572,1012.7}{1}
\tx[pins]{1614,1012.7}{2}
\tx{1593.4,1029}{115K\_1\%}
\tx[ref]{1595.4,1047.7}{C373}
\tx[pinb]{1584.3,1058}{1}
\tx[pinb]{1601.7,1058}{2}
\tx{1599,1081}{0.015uF\_10V}
\tx[ref,ar]{1417.6,1064}{CSP1}
\tx[xref,al]{1439.5,1061}{10-}
\tx[ref,ar]{1417.6,1122.7}{CSN1}
\tx[xref,al]{1439.5,1120}{10-}
\end{tikzpicture}
\end{document}
